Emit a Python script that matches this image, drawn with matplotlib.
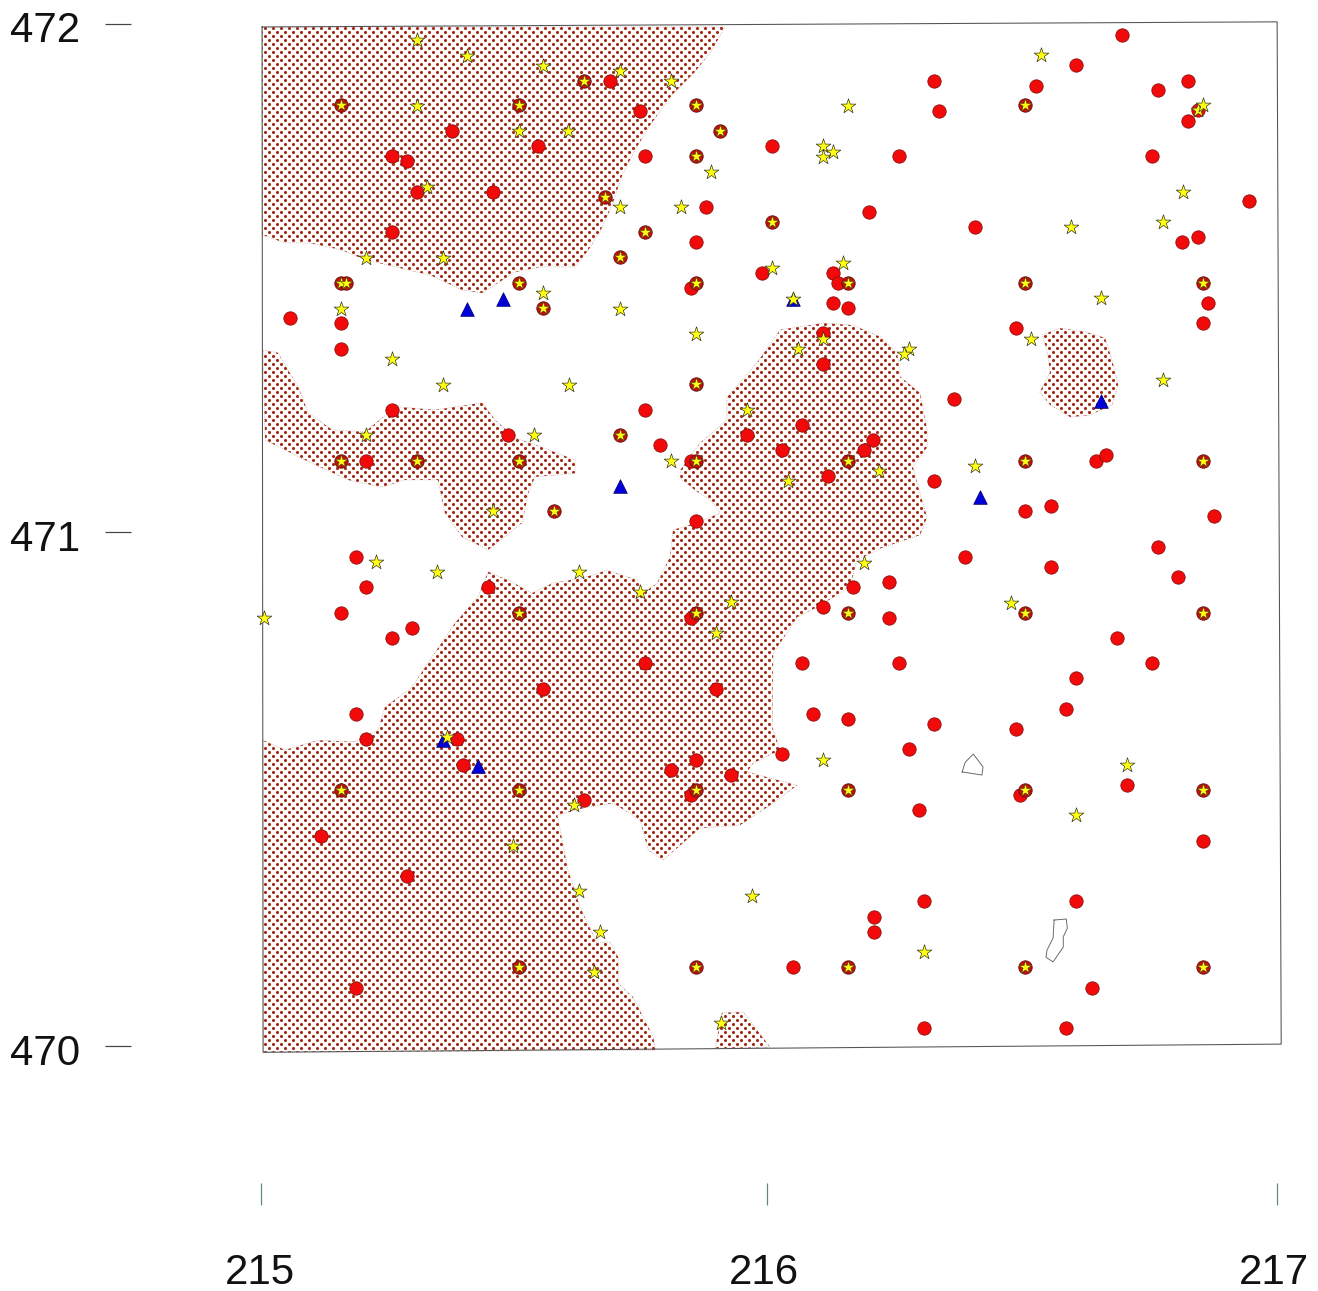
import matplotlib
matplotlib.use('Agg')
import matplotlib.pyplot as plt
import numpy as np
from matplotlib.patches import PathPatch
from matplotlib.path import Path
from matplotlib.transforms import ScaledTranslation

# all coordinates below are offsets from the map origin
X0, Y0 = 215, 470

# sites with a circle and a star on the same spot
both_x = [.157, .508, .856, .636, 1.504, .856, .677, 1.006, .756, .707, .157, .167, .508, .856, 1.156, 1.504, 1.854,
          .555, .904, .707, .856, .157, .307, .508, .856, 1.156, 1.504, 1.854, .577, .508, .856, 1.156, 1.504, 1.854,
          .157, .508, .856, 1.156, 1.504, 1.854, .508, .856, 1.156, 1.504, 1.854]
both_y = [1.843, 1.843, 1.843, 1.890, 1.843, 1.743, 1.663, 1.614, 1.595, 1.546, 1.495, 1.495, 1.495, 1.495, 1.495, 1.495, 1.495,
          1.446, 1.792, 1.197, 1.297, 1.146, 1.146, 1.146, 1.146, 1.146, 1.146, 1.146, 1.048, .848, .848, .848, .848, .848,
          .501, .501, .501, .501, .501, .501, .155, .155, .155, .155, .155]

circle_x = [1.695, 1.604, 1.325, 1.526, 1.825, 1.766, .687, .746, .376, 1.335, 1.825, 1.845, .545, .258, .287, .756, 1.006,
            1.256, 1.754, .307, .457, .876, 1.197, 1.945, .258, 1.406, .856, 1.813, 1.845, .986, 1.126, 1.136, .846, 1.126,
            1.156, 1.864, .057, .157, 1.854, 1.486, .157, 1.106, 1.106, 1.364, .258, .756, 1.065, .957, .486, .785, 1.026,
            1.205, 1.187, 1.644, 1.663, .207, .846, 1.116, 1.325, 1.555, 1.504, 1.876, .856, 1.766, .187, 1.386, 1.555,
            1.805, .207, .447, 1.165, 1.236, .157, 1.106, .846, 1.236, .297, .258, 1.685, .756, 1.065, 1.256, 1.754, 1.604,
            .555, .896, .187, 1.087, 1.156, 1.325, 1.585, 1.486, .207, .386, 1.276, 1.026, .856, .398, .807, .925, 1.705,
            .846, 1.494, .636, 1.295, .118, 1.854, .287, 1.604, 1.305, 1.207, 1.207, 1.047, .187, 1.636, 1.305, 1.585]
circle_y = [1.980, 1.922, 1.890, 1.881, 1.890, 1.873, 1.890, 1.832, 1.792, 1.832, 1.812, 1.834, 1.763, 1.743, 1.734, 1.743, 1.763,
            1.743, 1.743, 1.673, 1.673, 1.644, 1.634, 1.655, 1.595, 1.604, 1.575, 1.575, 1.585, 1.514, 1.514, 1.495, 1.485, 1.455,
            1.446, 1.455, 1.426, 1.416, 1.416, 1.406, 1.365, 1.397, 1.336, 1.267, 1.246, 1.246, 1.216, 1.197, 1.197, 1.177, 1.168,
            1.187, 1.168, 1.146, 1.158, 1.146, 1.146, 1.117, 1.107, 1.058, 1.048, 1.038, 1.028, .978, .958, .958, .938,
            .919, .899, .899, .899, .909, .848, .860, .838, .838, .819, .799, .799, .750, .750, .750, .750, .721,
            .699, .699, .650, .650, .641, .631, .660, .621, .601, .601, .582, .572, .560, .550, .541, .531, .511,
            .492, .492, .482, .462, .411, .402, .333, .284, .284, .253, .223, .155, .114, .114, .035, .035]

star_x = [.307, .406, .555, .707, .807, 1.535, 1.156, .307, .508, .604, 1.106, 1.126, 1.106, .886, .327, 1.815, .707, .827,
          1.776, 1.594, .207, .358, 1.146, 1.006, .555, .157, .707, 1.047, 1.654, .856, 1.106, 1.516, 1.057, 1.276, 1.266,
          .258, .358, .606, 1.776, .957, .207, .537, .807, 1.406, 1.217, 1.037, .457, .226, 1.187, .346, .626, .746, .925,
          1.476, .006, .896, .366, 1.106, 1.705, .616, 1.604, .496, .626, .967, .667, 1.305, .656, .906, 1.845, 1.854]
star_y = [1.971, 1.939, 1.920, 1.910, 1.890, 1.941, 1.841, 1.841, 1.792, 1.792, 1.763, 1.751, 1.741, 1.712, 1.683, 1.673, 1.644, 1.644,
          1.614, 1.604, 1.544, 1.544, 1.534, 1.524, 1.475, 1.444, 1.444, 1.463, 1.465, 1.395, 1.385, 1.385, 1.365, 1.365, 1.356,
          1.346, 1.295, 1.295, 1.305, 1.246, 1.197, 1.197, 1.146, 1.136, 1.126, 1.107, 1.048, .948, .946, .929, .929, .889, .870,
          .868, .838, .809, .605, .560, .550, .472, .453, .392, .304, .294, .223, .184, .145, .045, 1.834, 1.843]

tri_x = [.406, .476, 1.047, .707, 1.415, 1.654, .358, .427]
tri_y = [1.444, 1.463, 1.463, 1.097, 1.075, 1.264, .599, .548]

# dotted zones
zone_a_x = [.002, .913, .888, .854, .809, .766, .736, .711, .691, .667, .644, .618, .549, .500, .470, .435, .396, .333, .274, .205, .159, .096, .047, .002]
zone_a_y = [1.996, 1.996, 1.951, 1.908, 1.863, 1.804, 1.755, 1.706, 1.647, 1.595, 1.559, 1.526, 1.526, 1.516, 1.497, 1.475, 1.481, 1.510, 1.524, 1.540, 1.559, 1.573, 1.573, 1.589]
zone_b_x = [.004, .033, .073, .093, .140, .205, .240, .270, .343, .435, .461, .500, .553, .618, .618, .539, .526, .514, .447, .396, .362, .348, .283, .238, .171, .087, .008]
zone_b_y = [1.363, 1.358, 1.291, 1.240, 1.207, 1.203, 1.232, 1.252, 1.246, 1.260, 1.226, 1.191, 1.173, 1.148, 1.122, 1.115, 1.083, 1.025, .972, .997, 1.044, 1.109, 1.109, 1.095, 1.109, 1.148, 1.187]
zone_c_x = [.004, .047, .112, .185, .230, .244, .297, .323, .382, .427, .447, .494, .533, .575, .634, .681, .740, .752, .780, .805, .811, .858, .904, .884, .854, .825, .825,
            .864, .917, .917, .976, 1.022, 1.106, 1.165, 1.219, 1.252, 1.258, 1.297, 1.311, 1.311, 1.283, 1.297, 1.311, 1.297, 1.219, 1.173, 1.159, 1.095, 1.055, 1.035, 1.008, 1.006,
            1.022, .968, .957, 1.055, 1.008, .943, .864, .791, .762, .746, .693, .642, .583, .604, .628, .661, .687, .703, .703, .732, .772, .776, .004]
zone_c_y = [.599, .580, .599, .596, .619, .664, .703, .742, .829, .880, .929, .909, .887, .907, .917, .932, .913, .887, .907, .958, 1.011, 1.025, 1.044, 1.070, 1.089, 1.113, 1.128,
            1.181, 1.226, 1.271, 1.338, 1.403, 1.416, 1.412, 1.389, 1.358, 1.311, 1.279, 1.207, 1.173, 1.134, 1.083, 1.036, 1.001, .975, .952, .899, .860, .840, .809, .770, .625,
            .580, .554, .537, .511, .476, .433, .427, .364, .384, .443, .476, .468, .453, .345, .272, .202, .204, .174, .123, .096, .018, -.008, -.012]
zone_d_x = [.894, .907, .949, 1.002]
zone_d_y = [-.004, .065, .067, -.002]
zone_e_x = [1.537, 1.573, 1.622, 1.661, 1.675, 1.687, 1.675, 1.632, 1.593, 1.553, 1.533, 1.553, 1.547]
zone_e_y = [1.393, 1.406, 1.399, 1.387, 1.344, 1.295, 1.256, 1.236, 1.232, 1.256, 1.281, 1.320, 1.363]

# two small empty outlines
hole_f_x = [1.380, 1.386, 1.402, 1.421, 1.419, 1.380]
hole_f_y = [.537, .556, .572, .547, .531, .537]
hole_g_x = [1.561, 1.585, 1.587, 1.579, 1.579, 1.559, 1.545, 1.547, 1.559, 1.561]
hole_g_y = [.247, .249, .231, .214, .194, .165, .174, .188, .212, .247]

# map frame, the scan is slightly rotated
frame_x = [.002, 2.000, 2.008, .004, .002]
frame_y = [1.996, 2.006, .004, -.012, 1.996]

# tick marks sit slightly off the round values in the scan
x_ticks = [215, 215.996, 217]
x_labels = ['215', '216', '217']
y_ticks = [470, 471.006, 472.002]
y_labels = ['470', '471', '472']

plt.rcParams['font.family'] = ['Liberation Sans', 'DejaVu Sans']

W, H, DPI = 1318, 1291, 96
fig = plt.figure(figsize=(W / DPI, H / DPI), dpi=DPI)
ax = fig.add_axes([131 / W, (H - 1183) / H, (1300 - 131) / W, (1183 - 5) / H])
ax.set_xlim(214.744, 217.045)
ax.set_ylim(469.732, 472.039)
for s in ax.spines.values():
    s.set_visible(False)

# one compound path for all the dotted zones, used as clip for the dots
verts, codes = [], []
for zx, zy in [(zone_a_x, zone_a_y), (zone_b_x, zone_b_y), (zone_c_x, zone_c_y), (zone_d_x, zone_d_y), (zone_e_x, zone_e_y)]:
    pts = np.column_stack([X0 + np.array(zx), Y0 + np.array(zy)])
    verts.extend(pts)
    verts.append(pts[0])
    codes.extend([Path.MOVETO] + [Path.LINETO] * (len(pts) - 1) + [Path.CLOSEPOLY])
zones = PathPatch(Path(np.array(verts), codes), facecolor='white', edgecolor='#c9a9a0', lw=0.6, ls=':', zorder=1)
ax.add_patch(zones)

# texture only: staggered dots, about 8 px apart in a row and 4 px between rows
step_x, step_y = 8 / 508, 4 / 510.5
rows = np.arange(469.98, 472.01, step_y)
tex_x, tex_y = [], []
for i, r in enumerate(rows):
    cols = np.arange(215.0 + (i % 2) * step_x / 2, 216.8, step_x)
    tex_x.append(cols)
    tex_y.append(np.full(len(cols), r))
dots = ax.scatter(np.concatenate(tex_x), np.concatenate(tex_y), s=5.5, marker='o', color='#a52a14', linewidths=0, zorder=2)
dots.set_clip_path(zones)

for hx, hy in [(hole_f_x, hole_f_y), (hole_g_x, hole_g_y)]:
    ax.plot(X0 + np.array(hx), Y0 + np.array(hy), color='#666666', lw=0.7, zorder=3)
ax.plot(X0 + np.array(frame_x), Y0 + np.array(frame_y), color='#555555', lw=0.8, zorder=3, clip_on=False)

ax.scatter(X0 + np.array(tri_x), Y0 + np.array(tri_y), s=105, marker='^', color='#0000d8', edgecolors='#000060', linewidths=0.5, zorder=4)
ax.scatter(X0 + np.array(circle_x), Y0 + np.array(circle_y), s=100, marker='o', color='#f20a0a', edgecolors='#8a0a0a', linewidths=0.6, zorder=5)
ax.scatter(X0 + np.array(both_x), Y0 + np.array(both_y), s=100, marker='o', color='#c01008', edgecolors='#701010', linewidths=0.7, zorder=6)
ax.scatter(X0 + np.array(both_x), Y0 + np.array(both_y), s=95, marker='*', color='#ffff10', edgecolors='#404020', linewidths=0.4, zorder=7)
ax.scatter(X0 + np.array(star_x), Y0 + np.array(star_y), s=135, marker='*', color='#ffff10', edgecolors='#303020', linewidths=0.5, zorder=7)

ax.set_xticks(x_ticks, x_labels)
ax.set_yticks(y_ticks, y_labels)
ax.tick_params(axis='x', length=16.5, width=0.9, color='#5c8a72', pad=36, labelsize=31.5, labelcolor='#111111')
ax.tick_params(axis='y', length=19.5, width=0.9, color='#444444', pad=18.5, labelsize=31.5, labelcolor='#111111')

# labels are a few px off their ticks in the reference
for lab, shift in zip(ax.get_xticklabels(), [-1, -3, -3]):
    lab.set_transform(lab.get_transform() + ScaledTranslation(shift / DPI, 0, fig.dpi_scale_trans))
for lab in ax.get_yticklabels():
    lab.set_transform(lab.get_transform() + ScaledTranslation(0, -3 / DPI, fig.dpi_scale_trans))

fig.savefig('out.png', dpi=DPI, facecolor='white')
